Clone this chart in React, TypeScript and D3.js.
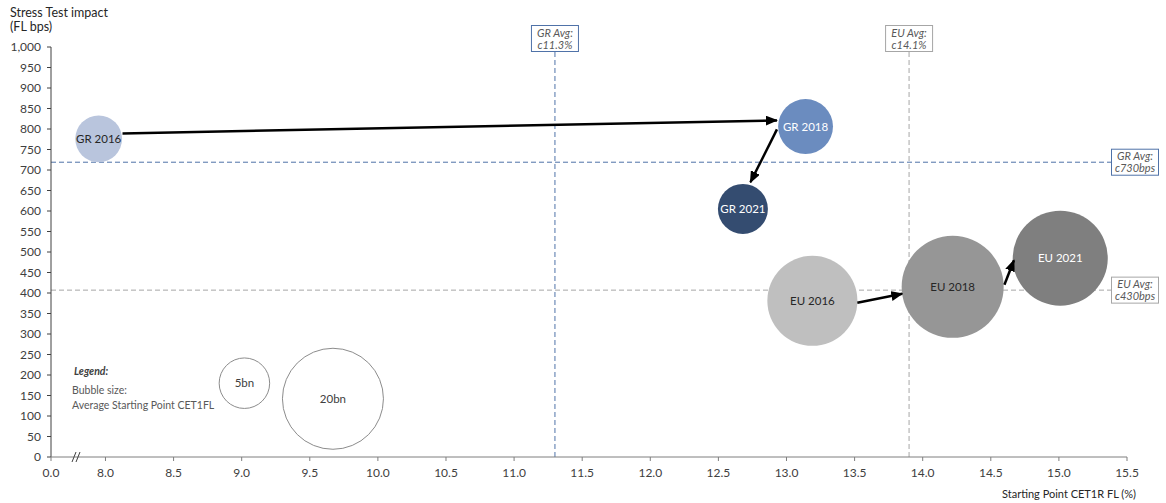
import React, { useEffect } from "react";
import * as d3 from "d3";

// ---------- data ----------
const bubbleLabels = ["GR 2016", "GR 2018", "GR 2021", "EU 2016", "EU 2018", "EU 2021"];
const cet1 = [7.95, 13.14, 12.68, 13.19, 14.22, 15.01];
const impact = [776, 806, 605, 381, 415, 485];
const sizeBn = [4.3, 5.9, 4.9, 15.9, 20.4, 17.7];
const bubbleColors = ["#b9c5dd", "#6b8cbf", "#344c70", "#bfbfbf", "#969696", "#7f7f7f"];
const bubbleTextColors = ["#262626", "#ffffff", "#ffffff", "#262626", "#262626", "#ffffff"];

// arrows (data coordinates)
const arrowFromX = [8.125, 12.93, 13.52, 14.6];
const arrowFromY = [789, 799, 376, 420];
const arrowToX = [12.93, 12.735, 13.85, 14.67];
const arrowToY = [821, 670, 398, 480];

// averages
const avgLabels = ["GR Avg:", "EU Avg:"];
const avgXValues = [11.3, 13.9];
const avgXText = ["c11.3%", "c14.1%"];
const avgYValues = [719, 407];
const avgYText = ["c730bps", "c430bps"];
const avgColors = ["#4f72a8", "#a6a6a6"];

// legend
const legendSizes = [5, 20];
const legendLabels = ["5bn", "20bn"];
const legendX = [9.02, 9.67];
const legendY = [180, 142];

// axes
const xAxisStart = 7.6;
const xTickValues = [8.0, 8.5, 9.0, 9.5, 10.0, 10.5, 11.0, 11.5, 12.0, 12.5, 13.0, 13.5, 14.0, 14.5, 15.0, 15.5];
const yTickValues = d3.range(0, 1001, 50);

const FONT = "Lato, 'Open Sans', sans-serif";

export default function App() {
  useEffect(() => {
    document.body.style.margin = "0";
  }, []);

  const W = 1166, H = 503;
  const x = d3.scaleLinear().domain([xAxisStart, 15.5]).range([51, 1127]);
  const y = d3.scaleLinear().domain([0, 1000]).range([457, 47]);
  const r = d3.scaleSqrt().domain([0, 20]).range([0, 50.5]);

  const fmtY = d3.format(",");
  const textGray = "#404040";

  return (
    <svg width={W} height={H} style={{ display: "block", fontFamily: FONT }}>
      <defs>
        <marker id="arrowHead" markerUnits="userSpaceOnUse" markerWidth={12} markerHeight={10}
          viewBox="0 0 12 10" refX={11} refY={5} orient="auto">
          <path d="M0,0 L12,5 L0,10 Z" fill="#000" />
        </marker>
      </defs>

      {/* axis titles */}
      <text x={10} y={17} fontSize={12.5} fill="#262626">Stress Test impact</text>
      <text x={10} y={31} fontSize={12.5} fill="#262626">(FL bps)</text>
      <text x={1136} y={498} fontSize={11} fill="#262626" textAnchor="end">Starting Point CET1R FL (%)</text>

      {/* average lines */}
      {avgXValues.map((v, i) => (
        <line key={"vx" + i} x1={x(v)} x2={x(v)} y1={52} y2={y(0)} stroke={avgColors[i]}
          strokeWidth={1} strokeDasharray="5,3" />
      ))}
      {avgYValues.map((v, i) => (
        <line key={"hy" + i} x1={x(xAxisStart)} x2={1111} y1={y(v)} y2={y(v)} stroke={avgColors[i]}
          strokeWidth={1} strokeDasharray="5,3" />
      ))}
      {avgXValues.map((v, i) => (
        <g key={"bx" + i}>
          <rect x={x(v) - 23.5} y={25.5} width={47} height={26} fill="#fff" stroke={avgColors[i]} strokeWidth={1} />
          <text x={x(v)} y={36.5} fontSize={11} fontStyle="italic" fill="#595959" textAnchor="middle">{avgLabels[i]}</text>
          <text x={x(v)} y={48.5} fontSize={11} fontStyle="italic" fill="#595959" textAnchor="middle">{avgXText[i]}</text>
        </g>
      ))}
      {avgYValues.map((v, i) => (
        <g key={"by" + i}>
          <rect x={1111.5} y={y(v) - 13} width={47} height={26} fill="#fff" stroke={avgColors[i]} strokeWidth={1} />
          <text x={1135} y={y(v) - 2} fontSize={11} fontStyle="italic" fill="#595959" textAnchor="middle">{avgLabels[i]}</text>
          <text x={1135} y={y(v) + 10} fontSize={11} fontStyle="italic" fill="#595959" textAnchor="middle">{avgYText[i]}</text>
        </g>
      ))}

      {/* bubbles */}
      {bubbleLabels.map((lab, i) => (
        <g key={lab}>
          <circle cx={x(cet1[i])} cy={y(impact[i])} r={r(sizeBn[i])} fill={bubbleColors[i]} />
          <text x={x(cet1[i])} y={y(impact[i]) + 4} fontSize={11.5} fill={bubbleTextColors[i]} textAnchor="middle">{lab}</text>
        </g>
      ))}

      {/* arrows */}
      {arrowFromX.map((v, i) => (
        <line key={"ar" + i} x1={x(v)} y1={y(arrowFromY[i])} x2={x(arrowToX[i])} y2={y(arrowToY[i])}
          stroke="#000" strokeWidth={2.5} markerEnd="url(#arrowHead)" />
      ))}

      {/* legend */}
      <text x={74} y={375} fontSize={10.5} fontWeight="bold" fontStyle="italic" fill="#404040">Legend:</text>
      <text x={72} y={394} fontSize={10.5} fill="#595959">Bubble size:</text>
      <text x={72} y={409} fontSize={10.5} fill="#595959">Average Starting Point CET1FL</text>
      {legendSizes.map((s, i) => (
        <g key={"lg" + i}>
          <circle cx={x(legendX[i])} cy={y(legendY[i])} r={r(s)} fill="none" stroke="#8c8c8c" strokeWidth={1} />
          <text x={x(legendX[i])} y={y(legendY[i]) + 4} fontSize={11.5} fill="#404040" textAnchor="middle">{legendLabels[i]}</text>
        </g>
      ))}

      {/* y axis */}
      <line x1={51} x2={51} y1={y(1000)} y2={y(0)} stroke="#404040" strokeWidth={1} />
      {yTickValues.map((v) => (
        <g key={"yt" + v}>
          <line x1={47} x2={51} y1={y(v)} y2={y(v)} stroke="#404040" />
          <text x={41} y={y(v) + 4} fontSize={12} fill={textGray} textAnchor="end">{fmtY(v)}</text>
        </g>
      ))}

      {/* x axis */}
      <line x1={x(xAxisStart)} x2={x(15.5)} y1={y(0)} y2={y(0)} stroke="#7f7f7f" strokeWidth={1} />
      <line x1={x(xAxisStart)} x2={x(xAxisStart)} y1={y(0)} y2={y(0) + 4} stroke="#7f7f7f" />
      <text x={x(xAxisStart)} y={477} fontSize={12} fill={textGray} textAnchor="middle">0.0</text>
      {xTickValues.map((v) => (
        <g key={"xt" + v}>
          <line x1={x(v)} x2={x(v)} y1={y(0)} y2={y(0) + 4} stroke="#7f7f7f" />
          <text x={x(v)} y={477} fontSize={12} fill={textGray} textAnchor="middle">{d3.format(".1f")(v)}</text>
        </g>
      ))}
      {/* axis break */}
      <line x1={72} y1={462} x2={76} y2={452} stroke="#404040" strokeWidth={1} />
      <line x1={76} y1={462} x2={80} y2={452} stroke="#404040" strokeWidth={1} />
    </svg>
  );
}
